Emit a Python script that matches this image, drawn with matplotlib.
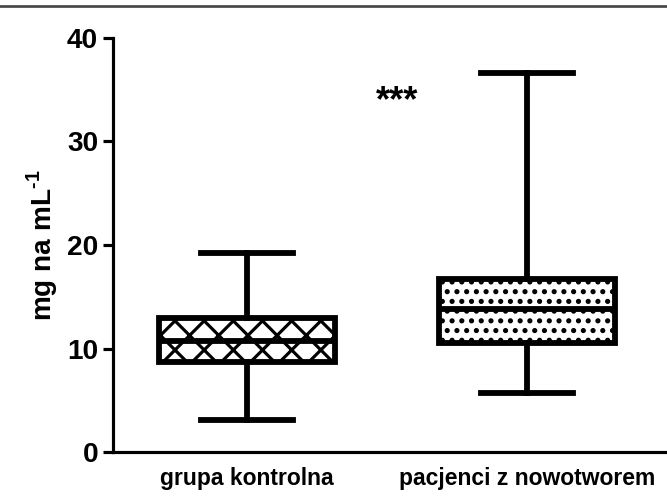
import matplotlib.pyplot as plt
from matplotlib.lines import Line2D

plt.rcParams['font.family'] = ['Liberation Sans', 'DejaVu Sans']
plt.rcParams['font.weight'] = 'bold'
plt.rcParams['hatch.linewidth'] = 1.3
plt.rcParams['mathtext.fontset'] = 'custom'
plt.rcParams['mathtext.rm'] = 'Liberation Sans:bold'
plt.rcParams['mathtext.bf'] = 'Liberation Sans:bold'

# dane
grupy = ['grupa kontrolna', 'pacjenci z nowotworem']
dolne_wasy = [3.1, 5.7]
q1 = [8.7, 10.5]
mediany = [10.7, 13.8]
q3 = [13.0, 16.7]
gorne_wasy = [19.2, 36.6]
wzory = ['xx', '...']

DPI = 175
fig = plt.figure(figsize=(667 / DPI, 498 / DPI), dpi=DPI)
ax = fig.add_axes([0.169, 0.092, 0.831, 0.832])

stats = []
for i in range(len(grupy)):
    stats.append({'whislo': dolne_wasy[i], 'q1': q1[i], 'med': mediany[i],
                  'q3': q3[i], 'whishi': gorne_wasy[i], 'label': grupy[i]})

lw = 2.4
bp = ax.bxp(stats, positions=[1, 2], widths=0.63, capwidths=0.33,
            showfliers=False, patch_artist=True,
            boxprops=dict(facecolor='white', edgecolor='black', linewidth=lw),
            medianprops=dict(color='black', linewidth=lw),
            whiskerprops=dict(color='black', linewidth=lw),
            capprops=dict(color='black', linewidth=lw))
for box, wz in zip(bp['boxes'], wzory):
    box.set_hatch(wz)

ax.text(1.535, 33.8, '***', ha='center', va='center', fontsize=15, fontweight='bold')

ax.set_xlim(0.52, 2.5)
ax.set_ylim(0, 40)
ax.set_yticks([0, 10, 20, 30, 40])
ax.set_ylabel(r'mg na mL$^{\text{-1}}$', fontsize=11.5, fontweight='bold', labelpad=3)

for s in ['top', 'right']:
    ax.spines[s].set_visible(False)
ax.spines['left'].set_linewidth(1.3)
ax.spines['bottom'].set_linewidth(1.3)
ax.tick_params(axis='y', width=1.3, length=4, labelsize=11.5, pad=2)
ax.tick_params(axis='x', length=0, labelsize=9.4, pad=6)
for t in ax.get_yticklabels() + ax.get_xticklabels():
    t.set_fontweight('bold')

# linia na górze rysunku
fig.add_artist(Line2D([0, 1], [0.988, 0.988], color='#444444', linewidth=1.1,
                      transform=fig.transFigure))

fig.savefig('out.png', dpi=DPI)
